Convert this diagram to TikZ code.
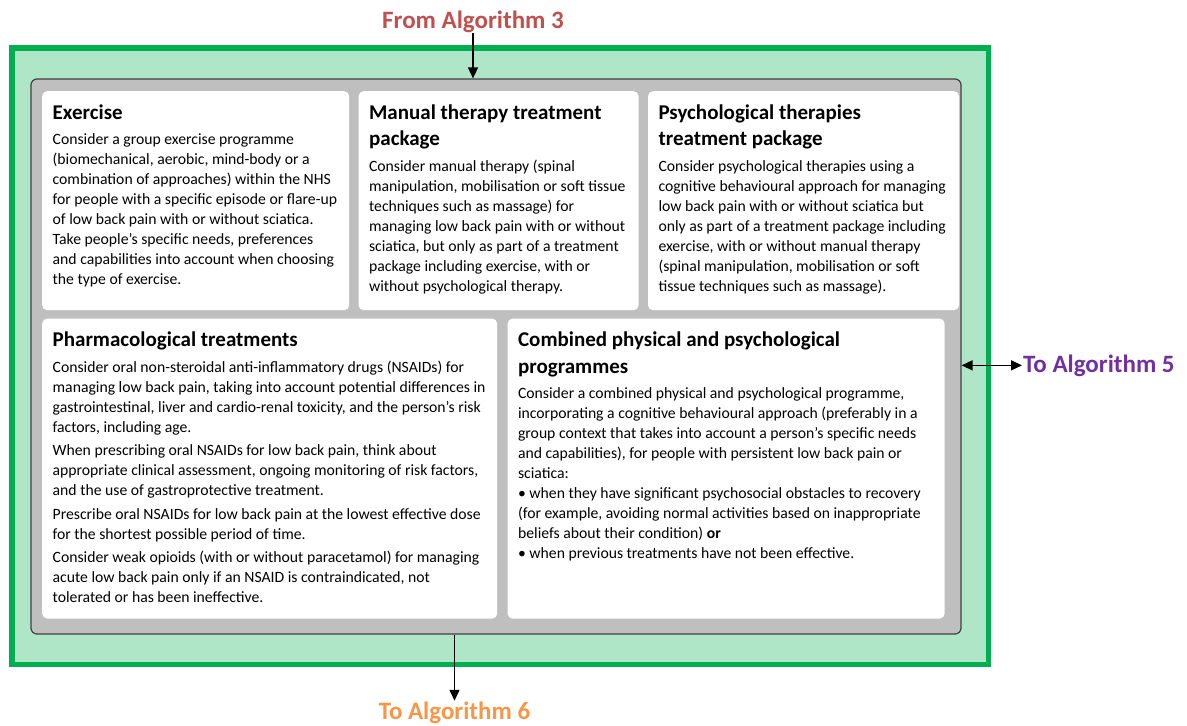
\documentclass[tikz,border=0pt]{standalone}
\usepackage{fontspec}
\setmainfont{Carlito}
\usepackage{xcolor}
\usetikzlibrary{arrows.meta,positioning}

\definecolor{framegreen}{RGB}{0,176,80}
\definecolor{framefill}{RGB}{176,230,200}
\definecolor{pathgray}{RGB}{191,191,191}
\definecolor{algred}{RGB}{192,80,77}
\definecolor{algorange}{RGB}{247,150,70}
\definecolor{algpurple}{RGB}{112,48,160}

\newcommand{\headfont}{\fontsize{21}{26.5}\selectfont\bfseries}
\newcommand{\bodyfont}{\fontsize{15.7}{20}\selectfont}
% panel text: width, height, heading, body
\newcommand{\paneltext}[4]{\parbox[t][#2][t]{#1}{\raggedright
  {\headfont\rule{0pt}{28pt}#3\par}\vspace{5.5pt}
  \bodyfont #4\par}}
\newcommand{\paragap}{\par\vspace{3.5pt}}

\begin{document}
\begin{tikzpicture}[
  x=1pt, y=-1pt,
  frame/.style={draw=framegreen, line width=5.5pt, fill=framefill, minimum width=976.5pt, minimum height=616.5pt, inner sep=0pt},
  pathway/.style={draw=black!75, line width=1.2pt, fill=pathgray, rounded corners=6pt, minimum width=930pt, minimum height=555pt, inner sep=0pt},
  panel/.style={fill=white, rounded corners=5pt, inner xsep=10.5pt, inner ysep=0pt, anchor=north west},
  alglabel/.style={font=\fontsize{25}{30}\selectfont\bfseries, inner sep=1pt},
  arrow/.style={-{Triangle[length=11pt,width=10pt]}, line width=1.5pt},
  twoway/.style={{Triangle[length=11pt,width=10pt]}-{Triangle[length=11pt,width=10pt]}, line width=1.5pt}
]
\useasboundingbox (0,0) rectangle (1187,726);

\node[frame] (frame) at (500,356) {};
\node[pathway] (pathway) at (496,356.5) {};

% top row
\node[panel] (exercise) at (42,91) {\paneltext{286pt}{219pt}{Exercise}{%
  Consider a group exercise programme\\
  (biomechanical, aerobic, mind-body or a\\
  combination of approaches) within the NHS\\
  for people with a specific episode or flare-up\\
  of low back pain with or without sciatica.\\
  Take people’s specific needs, preferences\\
  and capabilities into account when choosing\\
  the type of exercise.}};
\node[panel, below right=0pt and 9pt of exercise.north east] (manual) {\paneltext{259pt}{219pt}{Manual therapy treatment\\package}{%
  Consider manual therapy (spinal\\
  manipulation, mobilisation or soft tissue\\
  techniques such as massage) for\\
  managing low back pain with or without\\
  sciatica, but only as part of a treatment\\
  package including exercise, with or\\
  without psychological therapy.}};
\node[panel, below right=0pt and 9pt of manual.north east] (psych) {\paneltext{290pt}{219pt}{Psychological therapies\\treatment package}{%
  Consider psychological therapies using a\\
  cognitive behavioural approach for managing\\
  low back pain with or without sciatica but\\
  only as part of a treatment package including\\
  exercise, with or without manual therapy\\
  (spinal manipulation, mobilisation or soft\\
  tissue techniques such as massage).}};

% bottom row
\node[panel, below right=8pt and 0pt of exercise.south west] (pharma) {\paneltext{434pt}{300pt}{Pharmacological treatments}{%
  Consider oral non-steroidal anti-inflammatory drugs (NSAIDs) for\\
  managing low back pain, taking into account potential differences in\\
  gastrointestinal, liver and cardio-renal toxicity, and the person’s risk\\
  factors, including age.\paragap
  When prescribing oral NSAIDs for low back pain, think about\\
  appropriate clinical assessment, ongoing monitoring of risk factors,\\
  and the use of gastroprotective treatment.\paragap
  Prescribe oral NSAIDs for low back pain at the lowest effective dose\\
  for the shortest possible period of time.\paragap
  Consider weak opioids (with or without paracetamol) for managing\\
  acute low back pain only if an NSAID is contraindicated, not\\
  tolerated or has been ineffective.}};
\node[panel, below right=0pt and 10pt of pharma.north east] (combined) {\paneltext{416pt}{300pt}{Combined physical and psychological\\programmes}{%
  Consider a combined physical and psychological programme,\\
  incorporating a cognitive behavioural approach (preferably in a\\
  group context that takes into account a person’s specific needs\\
  and capabilities), for people with persistent low back pain or\\
  sciatica:\\
  \textbullet\ when they have significant psychosocial obstacles to recovery\\
  (for example, avoiding normal activities based on inappropriate\\
  beliefs about their condition) \textbf{or}\\
  \textbullet\ when previous treatments have not been effective.}};

% links to the other algorithms
\node[alglabel, text=algred, anchor=base] (fromalg3) at (473,28) {From Algorithm 3};
\node[alglabel, text=algpurple, anchor=base west] (toalg5) at (1022,372) {To Algorithm 5};
\node[alglabel, text=algorange, anchor=base] (toalg6) at (454.5,719.5) {To Algorithm 6};

\draw[arrow] (fromalg3) -- (fromalg3 |- pathway.north);
\draw[arrow] (toalg6 |- pathway.south) -- (toalg6);
\draw[twoway] (pathway.east |- toalg5) -- (toalg5);
\end{tikzpicture}
\end{document}
